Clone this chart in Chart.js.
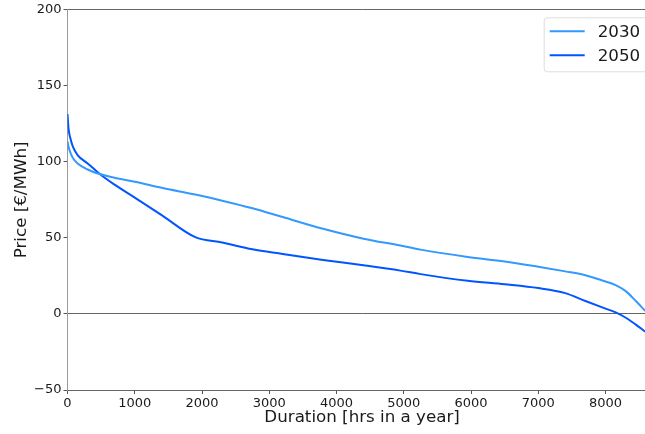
<!DOCTYPE html>
<html>
<head>
<meta charset="utf-8">
<script src="https://cdn.jsdelivr.net/npm/chart.js@4/dist/chart.umd.min.js"></script>
<style>
  html,body{margin:0;padding:0;background:#fff;overflow:hidden}
  /* canvas is a bit wider than the window: the right side of the plot is cut off like the original */
  #priceChart{display:block}
</style>
</head>
<body>
<canvas id="priceChart" width="680" height="434"></canvas>
<script>
// price duration curves
const hours = [0, 15, 40, 80, 150, 300, 480, 700, 1000, 1400, 1900, 2300, 2750, 3200, 3800, 4400, 4950, 5250, 5950, 6500, 7000, 7400, 7700, 7950, 8150, 8300, 8450, 8590];
const price2030 = [113.5, 110, 106.5, 102.5, 99, 95, 92, 89.5, 87, 83, 78.5, 74.5, 69.5, 63.7, 56, 49.5, 45, 42.3, 37.5, 34.5, 31, 28, 25.5, 22, 19, 15, 8.5, 2];
const price2050 = [131.5, 122, 116, 110, 104.5, 99, 92, 85, 76.5, 65, 50.5, 47, 42.5, 39.5, 35.5, 32, 28.5, 26.2, 21.8, 19.5, 17, 13.7, 8.5, 4.3, 1, -2.5, -7, -11.6];
const seriesLabels = ['2030', '2050'];
const seriesColors = ['#3399ff', '#0055ff'];
const xTicks = [0, 1000, 2000, 3000, 4000, 5000, 6000, 7000, 8000];
const yTicks = [-50, 0, 50, 100, 150, 200];

const FONT = 'DejaVu Sans';

function toPoints(ys){ return hours.map((h,i)=>({x:h, y:ys[i]})); }

// matplotlib style legend in the upper right corner
const boxLegend = {
  id: 'boxLegend',
  afterDraw(chart){
    const {ctx, chartArea} = chart;
    const right = chartArea.right - 7;
    const left = right - 106;
    const top = chartArea.top + 7.5;
    const h = 54;
    ctx.save();
    ctx.fillStyle = 'rgba(255,255,255,0.8)';
    ctx.strokeStyle = '#dcdcdc';
    ctx.lineWidth = 1;
    ctx.beginPath();
    ctx.roundRect(left + 0.5, top + 0.5, right - left, h, 3);
    ctx.fill();
    ctx.stroke();
    ctx.font = '16.7px "' + FONT + '"';
    ctx.textBaseline = 'middle';
    chart.data.datasets.forEach((ds, i) => {
      const y = top + 14 + i * 24;
      ctx.strokeStyle = ds.borderColor;
      ctx.lineWidth = 2;
      ctx.beginPath();
      ctx.moveTo(left + 6, y);
      ctx.lineTo(left + 41, y);
      ctx.stroke();
      ctx.fillStyle = '#1a1a1a';
      ctx.fillText(ds.label, left + 54, y + 1);
    });
    ctx.restore();
  }
};

new Chart(document.getElementById('priceChart').getContext('2d'), {
  type: 'line',
  data: {
    datasets: [
      {label: seriesLabels[0], data: toPoints(price2030), borderColor: seriesColors[0], borderWidth: 2, pointRadius: 0, cubicInterpolationMode: 'monotone'},
      {label: seriesLabels[1], data: toPoints(price2050), borderColor: seriesColors[1], borderWidth: 2, pointRadius: 0, cubicInterpolationMode: 'monotone'}
    ]
  },
  options: {
    responsive: false,
    animation: false,
    devicePixelRatio: 1,
    layout: {padding: {top: 8.3, right: 23.3, left: 0, bottom: 0}},
    plugins: {legend: {display: false}, tooltip: {enabled: false}},
    scales: {
      x: {
        type: 'linear',
        min: 0,
        max: 8760,
        afterFit: (s) => { s.height = 44; },
        afterBuildTicks: (s) => { s.ticks = xTicks.map(v => ({value: v})); },
        ticks: {padding: 2, color: '#1a1a1a', font: {family: FONT, size: 13}, maxRotation: 0, autoSkip: false,
          callback: (v) => String(v)},
        grid: {color: 'transparent', tickColor: '#555', tickLength: 4, drawOnChartArea: false},
        border: {color: '#666', width: 1},
        title: {display: true, text: 'Duration [hrs in a year]', color: '#1a1a1a', font: {family: FONT, size: 16.7}, padding: {top: 0, bottom: 6}}
      },
      y: {
        min: -50,
        max: 200,
        afterFit: (s) => { s.width = 67.5; },
        afterBuildTicks: (s) => { s.ticks = yTicks.map(v => ({value: v})); },
        ticks: {padding: 2, color: '#1a1a1a', font: {family: FONT, size: 13}, autoSkip: false,
          callback: (v) => String(v).replace('-', '\u2212')},
        // only the zero line and the top frame are drawn across the plot
        grid: {color: (c) => (c.tick && (c.tick.value === 0 || c.tick.value === 200)) ? '#666' : 'transparent', tickColor: '#555', tickLength: 4},
        border: {color: '#999', width: 1},
        title: {display: true, text: 'Price [€/MWh]', color: '#1a1a1a', font: {family: FONT, size: 16.7}, padding: {top: 12, bottom: 0}}
      }
    }
  },
  plugins: [boxLegend]
});
</script>
</body>
</html>
